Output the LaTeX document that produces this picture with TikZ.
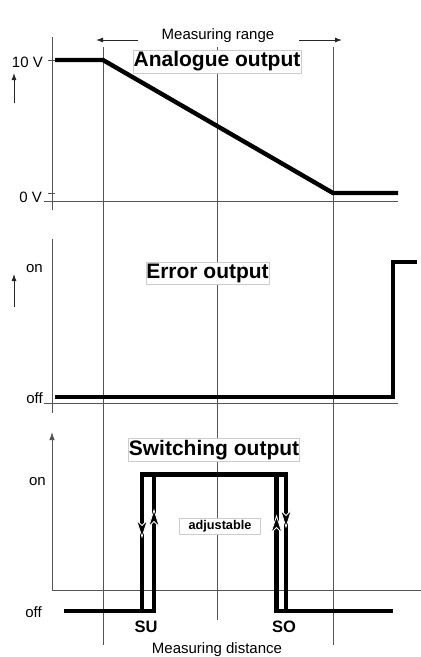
\documentclass[tikz,border=0pt]{standalone}
\usepackage{fontspec}
\setmainfont{Liberation Sans}
\usetikzlibrary{arrows.meta}
\definecolor{axisgray}{HTML}{555555}
\definecolor{boxline}{HTML}{CCCCCC}
\tikzset{
  vgrid/.style={line width=0.9pt,draw=axisgray},
  vaxis/.style={line width=0.9pt,draw=axisgray},
  vsig/.style={line width=4.4pt,draw=black,line join=miter},
  vptr/.style={-{Latex[length=7pt,width=5pt]},line width=0.9pt,draw=black!85},
  vtitle/.style={draw=boxline,fill=white,font=\fontsize{21}{21}\selectfont\bfseries,inner xsep=0.5pt,inner ysep=1.5pt},
  vnote/.style={draw=boxline,fill=white,font=\fontsize{12.7}{12.7}\selectfont\bfseries,inner xsep=9pt,inner ysep=2pt},
  vtag/.style={font=\fontsize{15}{15}\selectfont,inner sep=0pt},
  vpin/.style={font=\fontsize{16.5}{16.5}\selectfont\bfseries,inner sep=0pt},
  hyst/.pic={\filldraw[fill=black,draw=white,line width=0.8pt,line join=miter] (0,0) -- (-5.5,17) -- (0,11.5) -- (5.5,17) -- cycle;}
}

\begin{document}
\begin{tikzpicture}[x=1pt,y=-1pt]
  \useasboundingbox (0,0) rectangle (421,657);
  % guide lines across all three panels
  \draw[vgrid] (103,47) -- (103,645);
  \draw[vgrid] (217,47) -- (217,620);
  \draw[vgrid] (333,47) -- (333,645);
  % analogue output
  \draw[vaxis] (52,37) -- (52,210);
  \draw[vaxis] (44,201) -- (398,201);
  \draw[vaxis] (48,60) -- (55,60);
  \draw[vaxis] (48,193) -- (55,193);
  \node[vtag,anchor=base east] (vhigh) at (43,67) {10 V};
  \node[vtag,anchor=base east] (vlow) at (42,202) {0 V};
  \coordinate (ua0) at (14,103); \coordinate (ua1) at (14,73);
  \draw[vptr] (ua0) -- (ua1);
  \draw[vsig] (55,60) -- (103,60) -- (333,193) -- (398,193);
  \node[vtag,anchor=base] (range) at (218,39) {Measuring range};
  \coordinate (rl0) at (138,40); \coordinate (rl1) at (96,40);
  \coordinate (rr0) at (299,40); \coordinate (rr1) at (342,40);
  \draw[vptr] (rl0) -- (rl1);
  \draw[vptr] (rr0) -- (rr1);
  \node[vtitle] (ana) at (217,61.5) {Analogue output};
  % error output
  \draw[vaxis] (52,239) -- (52,413);
  \draw[vaxis] (44,403) -- (398,403);
  \node[vtag,anchor=base east] (eon) at (43,272) {on};
  \node[vtag,anchor=base east] (eoff) at (43,403) {off};
  \coordinate (ue0) at (14,307); \coordinate (ue1) at (14,274);
  \draw[vptr] (ue0) -- (ue1);
  \draw[vsig] (55,397) -- (393,397) -- (393,262) -- (417,262);
  \node[vtitle] (err) at (207.5,273) {Error output};
  % switching output
  \coordinate (so0) at (52,591); \coordinate (so1) at (52,432);
  \draw[vaxis,-{Latex[length=8pt,width=5.5pt]}] (so0) -- (so1);
  \draw[vaxis] (52,590) -- (421,590);
  \node[vtag,anchor=base east] (son) at (46,485) {on};
  \node[vtag,anchor=base east] (soff) at (42,617) {off};
  \draw[vsig] (64,611) -- (154,611) -- (154,476);
  \draw[vsig] (142,611) -- (142,474.5) -- (286,474.5) -- (286,611);
  \draw[vsig] (276.5,476) -- (276.5,611) -- (393,611);
  \pic[rotate=180] at (142,537) {hyst};
  \pic at (154,510) {hyst};
  \pic at (276.5,516) {hyst};
  \pic[rotate=180] at (286,527) {hyst};
  \node[vtitle] (swi) at (214,450) {Switching output};
  \node[vnote] (adj) at (220,526) {adjustable};
  \node[vpin,anchor=base] (su) at (146,632) {SU};
  \node[vpin,anchor=base] (so) at (284,632) {SO};
  \node[vtag,anchor=base] (dist) at (217,653) {Measuring distance};
\end{tikzpicture}
\end{document}
